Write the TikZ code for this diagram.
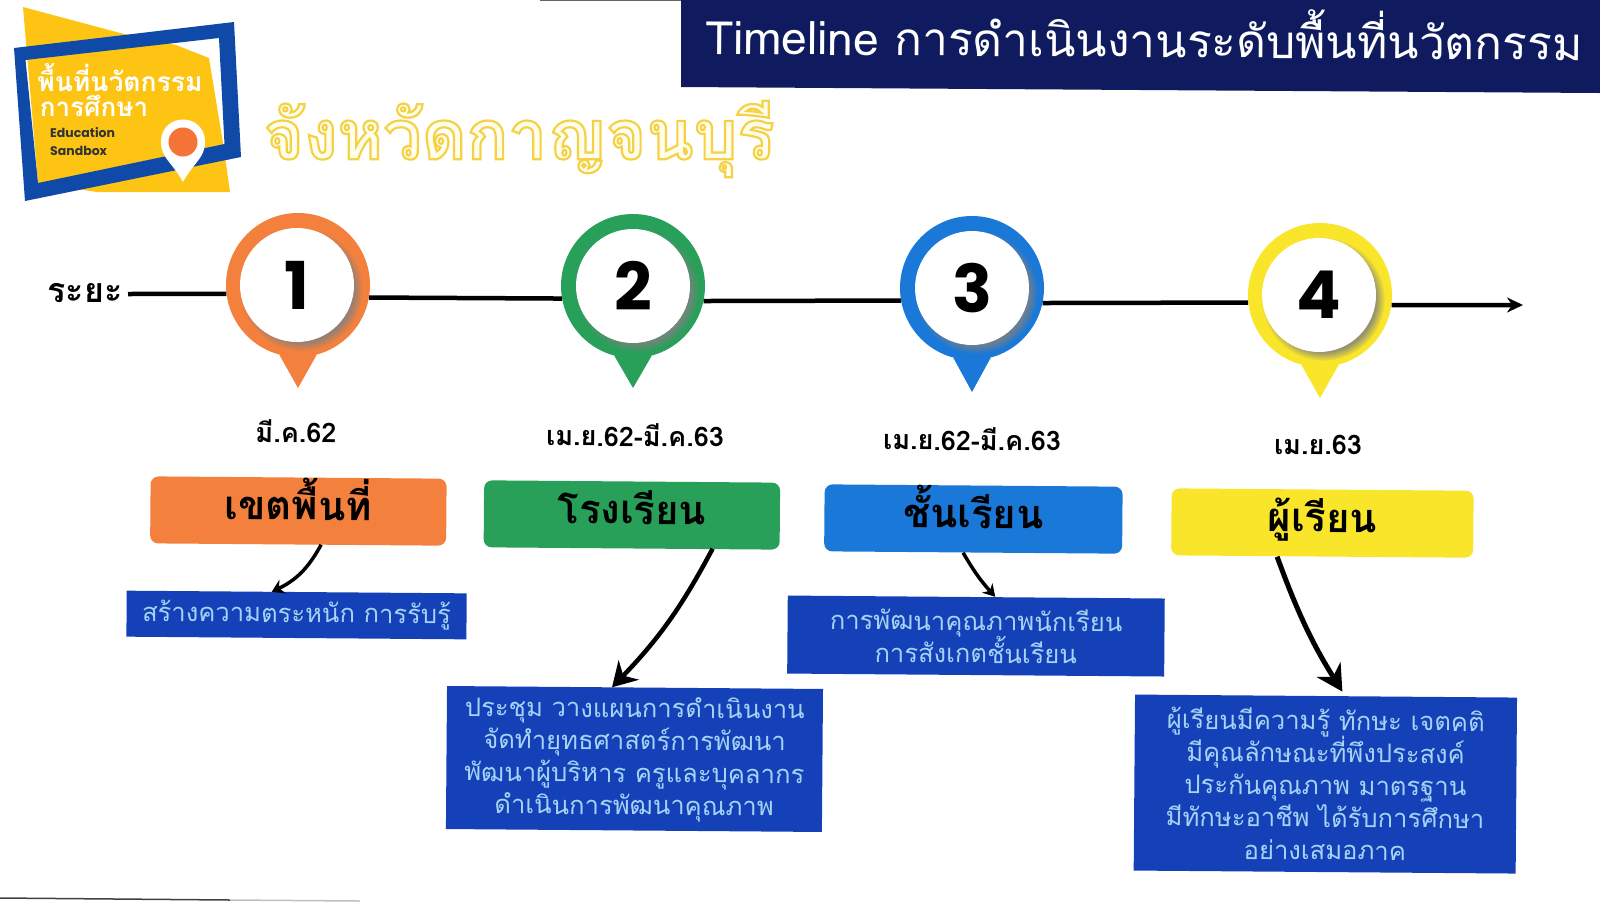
\documentclass[tikz,border=0pt]{standalone}
\usepackage{fontspec}
\usetikzlibrary{arrows.meta,shapes.geometric,shadows}
\setmainfont[Script=Thai]{Loma}
\newfontfamily\numfont{Poppins}
\newcommand{\descfont}{\fontsize{25.6pt}{32.4pt}\selectfont\lineskiplimit -30pt\relax}
\newcommand{\outlined}[1]{\special{pdf:code q 2 Tr 2.2 w 0.96 0.82 0.27 RG}#1\special{pdf:code Q}}

\begin{document}
\begin{tikzpicture}[x=1pt,y=-1pt]
    \definecolor{mynavy}{RGB}{15,27,94}
    \definecolor{myorange}{RGB}{243,128,60}
    \definecolor{mygreen}{RGB}{40,160,90}
    \definecolor{myblue}{RGB}{26,120,216}
    \definecolor{myyellow}{RGB}{249,230,43}
    \definecolor{mydeep}{RGB}{20,64,184}
    \definecolor{mypale}{RGB}{165,210,245}
    \definecolor{mygold}{RGB}{253,196,20}
    \definecolor{myframe}{RGB}{15,74,168}
    \definecolor{mycream}{RGB}{255,253,235}

    \tikzstyle{pinhead}=[circle,minimum size=144pt,inner sep=0pt]  % ring of a pin
    \tikzstyle{pinface}=[circle,minimum size=114pt,inner sep=0pt,fill=white,font=\numfont\bfseries\fontsize{66pt}{66pt}\selectfont,circular drop shadow={shadow xshift=4pt,shadow yshift=-4pt,shadow scale=1.08,opacity=.8}]
    \tikzstyle{datelabel}=[font=\bfseries\fontsize{27pt}{30pt}\selectfont,rotate=-0.45]
    \tikzstyle{headbox}=[rectangle,rounded corners=8pt,minimum width=296pt,minimum height=67pt,inner sep=0pt,text height=22pt,text depth=4pt,rotate=-0.45,font=\bfseries\fontsize{40pt}{40pt}\selectfont]
    \tikzstyle{descbox}=[rectangle,fill=mydeep,text=mypale,align=center,inner sep=0pt,rotate=-0.45,font=\descfont]
    \tikzstyle{axis}=[black,line width=4.5pt]
    \tikzstyle{pointer}=[black]

    \useasboundingbox (0,0) rectangle (1600,903);
    \fill[white] (0,0) rectangle (1600,903);

    % header
    \fill[mynavy] (681,0) -- (1600,0) -- (1600,93) -- (681,87) -- cycle;
    \node[text=white,font=\fontsize{46pt}{50pt}\selectfont,rotate=-0.4](title) at (1144,33){Timeline การดำเนินงานระดับพื้นที่นวัตกรรม};
    \draw[black!60,line width=1.5pt] (540,0.5) -- (681,0.5);

    % logo
    \fill[mygold] (23,7) -- (120,33) -- (176,45) -- (209,58) -- (223,143) -- (230,192) -- (97,192) -- (38,183) -- cycle;
    \fill[myframe,even odd rule] (14,48) -- (234,22) -- (241,157) -- (25,201) -- cycle (25.5,60) -- (219,38) -- (224.5,144) -- (38,183) -- cycle;
    \fill[white] (183,182) .. controls (172,162) and (161,158) .. (161,142) .. controls (161,112) and (205,112) .. (205,142) .. controls (205,158) and (194,162) .. (183,182) -- cycle;
    \fill[myorange!90!red] (183,142) circle (14.5);
    \node[text=white,font=\bfseries\fontsize{26.5pt}{28pt}\selectfont](logo1) at (120,78){พื้นที่นวัตกรรม};
    \node[text=white,font=\bfseries\fontsize{26pt}{28pt}\selectfont](logo2) at (94,106){การศึกษา};
    \node[font=\numfont\bfseries\fontsize{12.5pt}{14pt}\selectfont,anchor=west,inner sep=0pt,text=black!80](logo3) at (50,133){Education};
    \node[font=\numfont\bfseries\fontsize{12.5pt}{14pt}\selectfont,anchor=west,inner sep=0pt,text=black!80](logo4) at (50,151){Sandbox};
    \node[text=mycream,font=\bfseries\fontsize{69pt}{74pt}\selectfont](province) at (519,139){\outlined{จังหวัดกาญจนบุรี}};

    % pins
    \node[pinhead,fill=myorange](pin1) at (298,285){};
    \fill[myorange] (pin1.255) -- (298,388) -- (pin1.285) -- cycle;
    \node[pinface](num1) at (297,285){1};
    \node[pinhead,fill=mygreen](pin2) at (633,286){};
    \fill[mygreen] (pin2.255) -- (633,388) -- (pin2.285) -- cycle;
    \node[pinface](num2) at (633,286){2};
    \node[pinhead,fill=myblue](pin3) at (972,288){};
    \fill[myblue] (pin3.255) -- (972,392) -- (pin3.285) -- cycle;
    \node[pinface](num3) at (972,288){3};
    \node[pinhead,fill=myyellow](pin4) at (1320,295){};
    \fill[myyellow] (pin4.255) -- (1320,398) -- (pin4.285) -- cycle;
    \node[pinface](num4) at (1319,295){4};

    % axis
    \node[font=\bfseries\fontsize{34pt}{36pt}\selectfont](term) at (85,293){ระยะ};
    \coordinate (axisstart) at (128,294);
    \coordinate (axisend) at (1523,305);
    \draw[axis](axisstart)--(pin1.187);
    \draw[axis](pin1.-10)--(pin2.190);
    \draw[axis](pin2.-12)--(pin3.190);
    \draw[axis](pin3.-12)--(pin4.186);
    \draw[axis,-{Stealth[length=16pt,width=15pt]}](pin4.-8)--(axisend);

    % dates
    \node[datelabel](date1) at (296,431){มี.ค.62};
    \node[datelabel](date2) at (635,435){เม.ย.62-มี.ค.63};
    \node[datelabel](date3) at (972,439){เม.ย.62-มี.ค.63};
    \node[datelabel](date4) at (1318,445){เม.ย.63};

    % headings
    \node[headbox,fill=myorange,below of=date1,node distance=80pt,xshift=3pt](head1){เขตพื้นที่};
    \node[headbox,fill=mygreen,below of=date2,node distance=80pt,xshift=-2.5pt](head2){โรงเรียน};
    \node[headbox,fill=myblue,below of=date3,node distance=80pt,xshift=2pt,minimum width=298pt](head3){ชั้นเรียน};
    \node[headbox,fill=myyellow,below of=date4,node distance=78pt,xshift=5pt,minimum width=302pt](head4){ผู้เรียน};

    % details
    \node[descbox,minimum width=340pt,minimum height=46pt,below of=head1,node distance=104pt,xshift=-1pt](desc1){สร้างความตระหนัก การรับรู้};
    \node[descbox,minimum width=376pt,minimum height=143pt,below of=head2,node distance=244pt,xshift=4.5pt](desc2){ประชุม วางแผนการดำเนินงาน\\จัดทำยุทธศาสตร์การพัฒนา\\พัฒนาผู้บริหาร ครูและบุคลากร\\ดำเนินการพัฒนาคุณภาพ};
    \node[descbox,minimum width=377pt,minimum height=78pt,below of=head3,node distance=117pt,xshift=3.5pt](desc3){การพัฒนาคุณภาพนักเรียน\\การสังเกตชั้นเรียน};
    \node[descbox,minimum width=382pt,minimum height=176pt,below of=head4,node distance=261pt,xshift=5pt](desc4){ผู้เรียนมีความรู้ ทักษะ เจตคติ\\มีคุณลักษณะที่พึงประสงค์\\ประกันคุณภาพ มาตรฐาน\\มีทักษะอาชีพ ได้รับการศึกษา\\อย่างเสมอภาค};

    % arrows
    \draw[pointer,line width=3.5pt,-{Stealth[length=12pt,width=15pt]}]([xshift=23pt]head1.south) to[bend left=18] ([xshift=-25pt]desc1.north);
    \draw[pointer,line width=4.5pt,-{Stealth[length=24pt,width=28pt]}]([xshift=81pt]head2.south) to[bend left=8] ([xshift=-23pt]desc2.north);
    \draw[pointer,line width=3.5pt,-{Stealth[length=12pt,width=14pt]}]([xshift=-10pt]head3.south) to[bend right=6] ([xshift=19pt]desc3.north);
    \draw[pointer,line width=5pt,shorten >=5pt,-{Stealth[length=26pt,width=28pt]}]([xshift=-45pt]head4.south) to[bend right=6] ([xshift=19pt]desc4.north);

    % edge of the sheet
    \coordinate (sheetleft) at (0,898);
    \coordinate (sheetmid) at (230,900);
    \coordinate (sheetright) at (360,901);
    \draw[black!75,line width=1.5pt](sheetleft)--(sheetmid);
    \draw[black!25,line width=1.5pt](sheetmid)--(sheetright);
\end{tikzpicture}
\end{document}
